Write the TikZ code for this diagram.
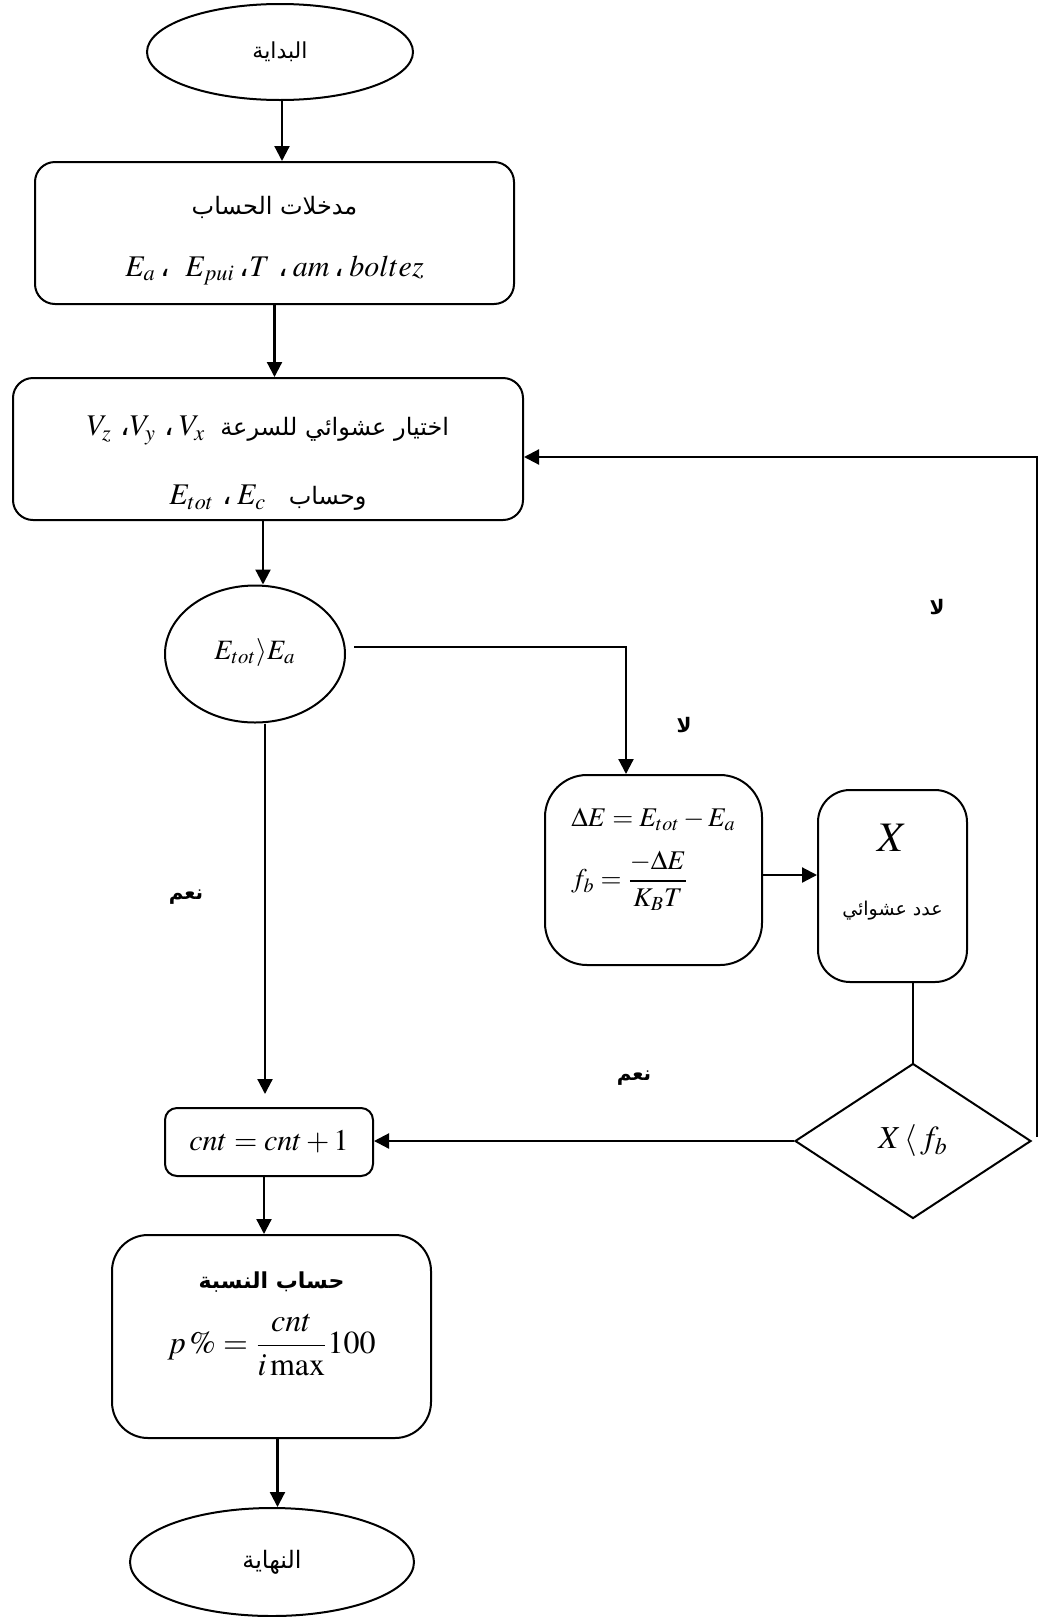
\documentclass[tikz,border=0pt]{standalone}
\usepackage{mathptmx}
\usepackage[no-math]{fontspec}
\setmainfont{Liberation Serif}
\newfontfamily\arabicfont[Script=Arabic]{DejaVu Sans}
\TeXXeTstate=1
\usetikzlibrary{shapes.geometric,arrows.meta,calc}
\newcommand{\artxt}[1]{{\arabicfont\beginR #1\endR}}
\newcommand{\acomma}{{\arabicfont ،}}
\begin{document}
\begin{tikzpicture}[x=0.5pt,y=-0.5pt,
  term/.style={ellipse,draw,line width=1pt,inner sep=0pt,align=center},
  procbox/.style={rectangle,draw,line width=1pt,inner sep=0pt,align=center},
  decision/.style={diamond,draw,line width=1pt,inner sep=0pt,align=center},
  arr/.style={-{Triangle[length=7.5pt,width=7.5pt]},line width=1.1pt},
  conn/.style={line width=1pt},
  lbl/.style={inner sep=0pt,font=\arabicfont\bfseries\fontsize{10}{12}\selectfont},
  mathsz/.style={font=\fontsize{15}{18}\selectfont},
  arsz/.style={font=\fontsize{11}{13}\selectfont}]
\fill[white] (0,0) rectangle (1045,1617);
\useasboundingbox (0,0) rectangle (1045,1617);

\node[term,minimum width=133pt,minimum height=48pt,arsz] (start) at (280,52) {\artxt{البداية}};

\node[procbox,rounded corners=10pt,minimum width=239.5pt,minimum height=71pt,mathsz] (box1) at (274.5,233)
  {\rule{0pt}{17pt}{\fontsize{12}{14}\selectfont\artxt{مدخلات الحساب}}\\[13pt]
   $E_a$\,\acomma\ \ $E_{pui}$\,\acomma$T$\;\acomma\,$am$\,\acomma\,$boltez$};

\node[procbox,rounded corners=10pt,minimum width=255pt,minimum height=71pt,mathsz] (box2) at (268,449)
  {\rule{0pt}{24pt}$V_z$\;\acomma$V_y$\;\acomma\,$V_x$\ \ {\fontsize{12}{14}\selectfont\artxt{اختيار عشوائي للسرعة}}\\[16.5pt]
   $E_{tot}$\;\acomma\,$E_c$\ \ \ {\fontsize{12}{14}\selectfont\artxt{وحساب}}};

\node[term,minimum width=90pt,minimum height=68.5pt,font=\fontsize{14}{16}\selectfont] (cond) at (255,654) {$E_{tot}{\rangle}E_a$\rule[-5pt]{0pt}{1pt}};

\node[procbox,rounded corners=21pt,minimum width=108.5pt,minimum height=95pt,align=left,font=\fontsize{13.5}{16}\selectfont] (box3) at (653.5,870)
  {$\Delta E=E_{tot}-E_a$\\[9pt]
   $f_b=\displaystyle\frac{-\Delta E}{K_B T}$\rule[-22pt]{0pt}{1pt}};

\node[procbox,rounded corners=16pt,minimum width=74.5pt,minimum height=96pt] (box4) at (892.5,886)
  {{\fontsize{21}{25}\selectfont$X$}\\[20pt]{\fontsize{9.5}{11}\selectfont\artxt{عدد عشوائي}}\rule[-16pt]{0pt}{1pt}};

\node[decision,minimum width=118pt,minimum height=77.5pt,font=\fontsize{16}{18}\selectfont] (dia) at (913,1141) {$X\,{\langle}\,f_b$};

\node[procbox,rounded corners=6pt,minimum width=104pt,minimum height=34pt,font=\fontsize{15}{18}\selectfont] (cnt) at (269,1142) {$cnt=cnt+1$};

\node[procbox,rounded corners=18pt,minimum width=159.5pt,minimum height=101.5pt,font=\fontsize{16}{18}\selectfont] (box5) at (271.5,1336.5)
  {{\fontsize{11}{13}\selectfont\bfseries\artxt{حساب النسبة}}\\[10pt]
   $\displaystyle p\,\%=\frac{cnt}{i\,\mathrm{max}}100$\rule[-24pt]{0pt}{1pt}};

\node[term,minimum width=142pt,minimum height=54pt,font=\fontsize{12}{14}\selectfont] (end) at (272,1562) {\artxt{النهاية}};

\node[lbl] (no1) at (937,607) {\beginR لا\endR};
\node[lbl] (no2) at (684,725) {\beginR لا\endR};
\node[lbl] (yes1) at (186,897) {\beginR نعم\endR};
\node[lbl] (yes2) at (634,1078) {\beginR نعم\endR};

\draw[arr] ($(start.south)+(1pt,0)$) -- ($(start.south |- box1.north)+(1pt,0)$);
\draw[arr] (box1.south) -- (box1.south |- box2.north);
\draw[arr] ($(box2.south)+(-2.5pt,0)$) -- ($(box2.south |- cond.north)+(-2.5pt,0)$);
\draw[arr] ($(cond.east)+(4pt,3.5pt)$) -| ($(box3.north)+(-13.75pt,0)$);
\draw[arr] ($(box3.east)+(0,-2.5pt)$) -- ($(box3.east -| box4.west)+(0,-2.5pt)$);
\draw[conn] ($(box4.south)+(10.25pt,0)$) -- (dia.north);
\draw[arr] ($(dia.east)+(2.5pt,2pt)$) |- ($(box2.east)+(0,-4pt)$);
\draw[arr] (dia.west) -- (dia.west -| cnt.east);
\draw[arr] ($(cond.south)+(5pt,0)$) -- ($(cond.south |- cnt.north)+(5pt,6.5pt)$);
\draw[arr] ($(cnt.south)+(-2.5pt,0)$) -- ($(cnt.south |- box5.north)+(-2.5pt,0)$);
\draw[arr] ($(box5.south)+(3pt,0)$) -- ($(box5.south |- end.north)+(3pt,0)$);
\end{tikzpicture}
\end{document}
